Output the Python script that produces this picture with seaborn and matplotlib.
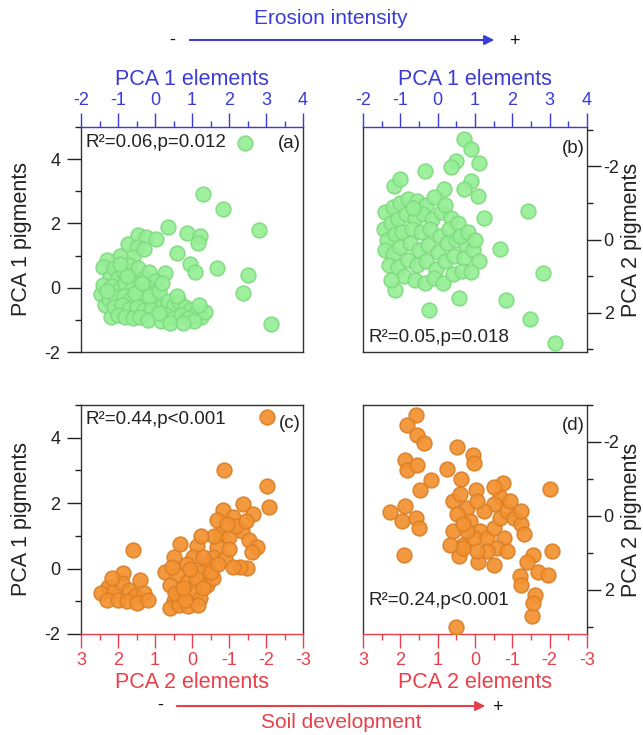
import matplotlib
matplotlib.use('Agg')
import matplotlib.pyplot as plt
import seaborn as sns
import pandas as pd
from matplotlib.ticker import MultipleLocator
from matplotlib.patches import FancyArrowPatch

# ---------------- data ----------------
# (a) PCA1 elements vs PCA1 pigments
a_x = [2.43, 1.29, 1.85, 2.80, 0.36, 0.86, 1.22, 1.17, 0.59, 0.95, 1.08, 1.68, 0.27, 2.5, 2.37, 3.13,
       -0.72, -0.45, -0.23, 0.04, -0.5, -0.59, -0.95, -0.3,
       -1.31, -1.4, -1.22, -1.45, -1.35, -1.2, -1.4,
       -1.1, -1.0, -0.85, -0.7, -0.6, -0.45, -0.3, -0.15, 0.0, -1.15, -0.95, -0.8, -0.6, -0.4, -0.2,
       -0.05, -1.25, -1.05, -0.85, -0.65, -0.45, -0.25, 0.05, -1.1, -0.9, -0.7, -0.5, -0.3, -0.1,
       -1.0, -0.8, -0.6, -0.4, -0.2, -0.75, -0.55, -0.35, -1.3, -0.95, -0.15, 0.1, 0.2,
       0.2, 0.35, 0.5, 0.65, 0.8, 0.95, 1.1, 1.25, 1.35, 0.3, 0.5, 0.7, 0.9, 1.05, 0.15, 0.4, 0.75,
       1.2, 0.6, 0.1]
a_y = [4.5, 2.93, 2.44, 1.79, 1.88, 1.71, 1.6, 1.38, 1.09, 0.75, 0.49, 0.62, 0.46, 0.41, -0.16, -1.12,
       1.36, 1.64, 1.58, 1.53, 1.27, 0.96, 1.0, 1.2,
       0.86, 0.65, 0.34, -0.2, -0.55, -0.9, 0.1,
       0.6, 0.3, 0.5, 0.7, 0.4, 0.6, 0.3, 0.5, 0.2, 0.05, -0.05, 0.15, 0.05, -0.05, 0.0,
       -0.15, -0.35, -0.3, -0.25, -0.35, -0.3, -0.4, -0.45, -0.6, -0.55, -0.65, -0.6, -0.7, -0.65,
       -0.85, -0.9, -0.95, -0.9, -1.0, 0.35, -0.15, 0.15, -0.1, 0.75, -0.25, -0.1, 0.15,
       -0.6, -0.4, -0.55, -0.45, -0.6, -0.7, -0.8, -0.9, -0.75, -0.85, -0.95, -0.85, -0.95, -1.05,
       -1.05, -1.1, -1.1, -0.55, -0.25, -0.8]

# (b) PCA1 elements vs PCA2 pigments
b_x = [0.71, 0.89, 1.12, 0.49, 0.35, -0.34, -1.18, -1.0, 0.89, 0.71, 1.07, 0.17, 2.42, 1.25, 1.66,
       2.81, 1.84, 2.47, 3.14, -0.23, 0.58, -1.13,
       -1.4, -1.2, -1.0, -0.8, -0.55, -0.3, -0.1, -1.45, -1.25, -1.05, -0.85, -0.6, -0.4, -0.15, 0.1,
       0.35, -1.35, -1.15, -0.95, -0.7, -0.45, -0.2, 0.05, 0.3, 0.55, -1.4, -1.2, -1.0, -0.75, -0.5,
       -0.25, 0.0, 0.25, 0.5, 0.75, -1.3, -1.05, -0.8, -0.55, -0.3, -0.05, 0.2, 0.45, 0.7, 0.95, 1.1,
       -0.9, -0.6, -0.35, -0.1, 0.15, 0.4, 0.65, 0.9, -1.25, 0.6, 0.8, 1.0, -0.65, 0.2]
b_y = [-2.74, -2.47, -2.1, -2.15, -1.97, -1.88, -1.46, -1.64, -1.6, -1.37, -1.19, -1.37, -0.78, -0.6,
       0.27, 0.91, 1.64, 2.17, 2.82, 1.92, 1.6, 1.37,
       -0.75, -0.9, -1.0, -1.1, -1.05, -0.95, -1.15, -0.3, -0.45, -0.55, -0.7, -0.6, -0.7, -0.55,
       -0.75, -0.6, 0.0, -0.15, -0.2, -0.3, -0.2, -0.3, -0.1, -0.3, -0.45, 0.3, 0.4, 0.2, 0.1, 0.3,
       0.15, 0.35, 0.1, 0.0, 0.15, 0.7, 0.75, 0.55, 0.7, 0.6, 0.8, 0.6, 0.45, 0.5, 0.3, 0.6,
       1.0, 1.1, 1.2, 1.05, 1.2, 0.95, 0.85, 0.9, 1.1, -0.1, -0.2, 0.0, -0.85, -0.95]

# (c) PCA2 elements vs PCA1 pigments
c_x = [-2.02, -0.86, -2.02, -2.08, 1.59, 0.73,
       1.86, 2.26, 1.41, 2.45, 2.1, 1.9, 1.7, 1.55, 1.3, 2.3, 2.0, 1.75, 1.5, 1.2, 2.15,
       -0.85, -1.39, -1.12, -0.67, -1.66, -1.35, -1.53, -1.76, -1.62, -1.49, -1.31, -0.76, -0.67,
       -0.58, -0.4, -0.13, -0.04, -0.22, 0.32, 0.5, 0.14, 0.41, 0.59, 0.32, 0.5, -0.04, -0.22, -0.4,
       -0.58, 0.14,
       0.6, 0.35, 0.1, -0.15, 0.45, 0.2, -0.1, 0.05, -0.3, -0.9, -1.0, -1.2, -0.95, -0.6, -1.45,
       -0.3, 0.55, 0.25, -0.5, -0.7, -1.1, -1.0, -0.25]
c_y = [4.64, 3.0, 2.52, 1.88, 0.57, -0.11,
       -0.15, -0.57, -0.36, -0.75, -0.7, -0.45, -0.65, -0.85, -0.75, -0.95, -0.95, -1.0, -1.05, -0.95,
       -0.3,
       1.78, 1.98, 1.57, 1.47, 1.67, 1.16, 0.86, 0.65, 0.5, 0.03, 0.05, 1.06, 0.65, 0.34, 0.13, 0.7,
       0.34, -0.09, 0.75, 0.34, 0.13, -0.19, -0.5, -0.8, -1.0, -0.7, -0.9, -0.5, -0.3, -0.4,
       -1.2, -1.1, -1.15, -1.1, -0.75, -0.95, -0.3, 0.0, 0.35, 0.3, 0.95, 1.3, 1.35, 1.0, 1.45,
       -0.6, 0.05, -0.6, -0.1, 0.15, 0.05, 0.6, 1.0]

# (d) PCA2 elements vs PCA2 pigments
d_x = [1.59, 1.82, 1.55, 1.37, 1.87, 1.82, 1.55, 1.19, 1.46, 2.27, 1.87, 1.96, 1.59, 1.5, 1.91,
       0.47, 0.06, 0.02, 0.74, 0.38, -2.01, -0.75, -0.03,
       -2.06, -1.56, -1.38, -1.69, -1.96, -1.2, -1.24, -1.6, -0.52, -0.07, 0.42, 0.33,
       0.51, -1.54, -1.55,
       0.58, 0.4, 0.22, 0.49, 0.13, -0.14, 0.04, 0.31, -0.32, -0.5, -0.68, -0.86, -1.04, -1.22, -1.3,
       -0.77, -0.59, -0.86, -0.32, -0.05, -0.68, -0.5, -0.23, -0.05, -0.95, -1.22, -0.5, 0.58, 0.67,
       0.22, 0.31]
d_y = [-2.74, -2.47, -2.19, -1.96, -1.51, -1.23, -1.37, -0.96, -0.69, -0.1, -0.27, 0.14, 0.05, 0.32,
       1.05,
       -1.85, -1.64, -1.42, -1.26, -0.99, -0.72, -0.9, -0.69,
       0.96, 1.05, 1.24, 1.51, 1.6, 1.64, 1.87, 2.14, 1.33, 1.24, 1.1, 0.78,
       3.0, 2.71, 2.35,
       -0.4, -0.58, -0.22, -0.04, 0.14, 0.41, 0.6, 0.87, 0.6, 0.32, 0.05, -0.14, 0.05, 0.23, 0.5,
       0.6, 0.87, 0.96, 0.96, 0.96, -0.5, -0.31, -0.13, -0.4, -0.4, -0.13, -0.77, 0.41, 0.78,
       0.41, 0.23]

labels_a = "R\u00b2=0.06,p=0.012"
labels_b = "R\u00b2=0.05,p=0.018"
labels_c = "R\u00b2=0.44,p<0.001"
labels_d = "R\u00b2=0.24,p<0.001"

# ---------------- style ----------------
sns.set_style('white')
plt.rcParams['font.family'] = ['Liberation Sans', 'DejaVu Sans']
plt.rcParams['axes.unicode_minus'] = False

BLUE = '#3b3bd6'
RED = '#e8404a'
GREEN_FACE = '#96ee96'
GREEN_EDGE = '#80dc80'
ORANGE_FACE = '#f39230'
ORANGE_EDGE = '#dc8028'
TICK_FS = 13
LAB_FS = 15.5
TXT_FS = 13.5

W, H = 643, 735
fig = plt.figure(figsize=(W / 100, H / 100), dpi=100)


def rect(l, t, r, b):
    return [l / W, 1 - b / H, (r - l) / W, (b - t) / H]


axA = fig.add_axes(rect(81, 127, 303, 352))
axB = fig.add_axes(rect(363, 127, 587, 352))
axC = fig.add_axes(rect(81, 405, 303, 634))
axD = fig.add_axes(rect(363, 405, 587, 634))

for ax, xs, ys, fc, ec in [(axA, a_x, a_y, GREEN_FACE, GREEN_EDGE),
                           (axB, b_x, b_y, GREEN_FACE, GREEN_EDGE),
                           (axC, c_x, c_y, ORANGE_FACE, ORANGE_EDGE),
                           (axD, d_x, d_y, ORANGE_FACE, ORANGE_EDGE)]:
    df = pd.DataFrame({'x': xs, 'y': ys})
    sns.scatterplot(data=df, x='x', y='y', ax=ax, s=112, color=fc, edgecolor=ec,
                    linewidth=1.2, alpha=0.92, legend=False, zorder=3)
    ax.set_facecolor('white')
    for sp in ax.spines.values():
        sp.set_color('#333333')
        sp.set_linewidth(1.0)
    ax.tick_params(which='major', length=10, width=1.0, labelsize=TICK_FS, pad=3)
    ax.tick_params(which='minor', length=4, width=1.0)
    ax.set_xlabel('')
    ax.set_ylabel('')

# x axes on top (blue) for a, b
for ax in (axA, axB):
    ax.set_xlim(-2, 4)
    ax.xaxis.tick_top()
    ax.xaxis.set_label_position('top')
    ax.xaxis.set_major_locator(MultipleLocator(1))
    ax.xaxis.set_minor_locator(MultipleLocator(0.5))
    ax.tick_params(axis='x', which='both', colors=BLUE, top=True, bottom=False, direction='out')
    ax.spines['top'].set_color(BLUE)
    ax.set_xlabel('PCA 1 elements', color=BLUE, fontsize=LAB_FS, labelpad=5)

# x axes at bottom (red, reversed) for c, d
for ax in (axC, axD):
    ax.set_xlim(3, -3)
    ax.xaxis.set_major_locator(MultipleLocator(1))
    ax.xaxis.set_minor_locator(MultipleLocator(0.5))
    ax.tick_params(axis='x', which='both', colors=RED, bottom=True, top=False, direction='out')
    ax.spines['bottom'].set_color(RED)
    ax.set_xlabel('PCA 2 elements', color=RED, fontsize=LAB_FS, labelpad=2)

# left y axes for a, c
for ax in (axA, axC):
    ax.set_ylim(-2, 5)
    ax.yaxis.set_major_locator(MultipleLocator(2))
    ax.yaxis.set_minor_locator(MultipleLocator(1))
    ax.yaxis.set_ticks([-2, 0, 2, 4])
    ax.tick_params(axis='y', which='both', left=True, right=False, direction='out', colors='#222222')
    ax.tick_params(axis='y', which='major', pad=5)
    ax.set_ylabel('PCA 1 pigments', fontsize=LAB_FS, color='#222222', labelpad=9)

# right y axes (reversed) for b, d
axB.set_ylim(3.07, -3.07)
axD.set_ylim(3.2, -3.0)
for ax in (axB, axD):
    ax.yaxis.tick_right()
    ax.yaxis.set_label_position('right')
    ax.yaxis.set_major_locator(MultipleLocator(2))
    ax.yaxis.set_minor_locator(MultipleLocator(1))
    ax.tick_params(axis='y', which='both', right=True, left=False, direction='out', colors='#222222')
    ax.tick_params(axis='y', which='major', pad=2)
    ax.set_ylabel('PCA 2 pigments', fontsize=LAB_FS, color='#222222', labelpad=1, rotation=90)

# annotations
kw = dict(fontsize=TXT_FS, color='#222222')
axA.text(0.02, 0.93, labels_a, transform=axA.transAxes, ha='left', va='center', **kw)
axA.text(0.99, 0.925, '(a)', transform=axA.transAxes, ha='right', va='center', **kw)
axB.text(0.99, 0.905, '(b)', transform=axB.transAxes, ha='right', va='center', **kw)
axB.text(0.025, 0.065, labels_b, transform=axB.transAxes, ha='left', va='center', **kw)
axC.text(0.02, 0.935, labels_c, transform=axC.transAxes, ha='left', va='center', **kw)
axC.text(0.99, 0.92, '(c)', transform=axC.transAxes, ha='right', va='center', **kw)
axD.text(0.99, 0.91, '(d)', transform=axD.transAxes, ha='right', va='center', **kw)
axD.text(0.025, 0.145, labels_d, transform=axD.transAxes, ha='left', va='center', **kw)

# direction arrows
def fx(px):
    return px / W


def fy(py):
    return 1 - py / H


fig.text(fx(331), fy(18), 'Erosion intensity', color=BLUE, fontsize=15, ha='center', va='center')
fig.add_artist(FancyArrowPatch((fx(187), fy(40)), (fx(497), fy(40)), transform=fig.transFigure,
                               arrowstyle='-|>', mutation_scale=14, color=BLUE, lw=1.5))
fig.text(fx(172), fy(40), '-', color='#111111', fontsize=13, ha='center', va='center')
fig.text(fx(514), fy(42), '+', color='#111111', fontsize=13, ha='center', va='center')

fig.text(fx(341), fy(722), 'Soil development', color=RED, fontsize=15, ha='center', va='center')
fig.add_artist(FancyArrowPatch((fx(174), fy(706)), (fx(488), fy(706)), transform=fig.transFigure,
                               arrowstyle='-|>', mutation_scale=14, color=RED, lw=1.5))
fig.text(fx(160), fy(705), '-', color='#111111', fontsize=13, ha='center', va='center')
fig.text(fx(497), fy(707), '+', color='#111111', fontsize=13, ha='center', va='center')

fig.savefig('out.png', dpi=100, facecolor='white')
